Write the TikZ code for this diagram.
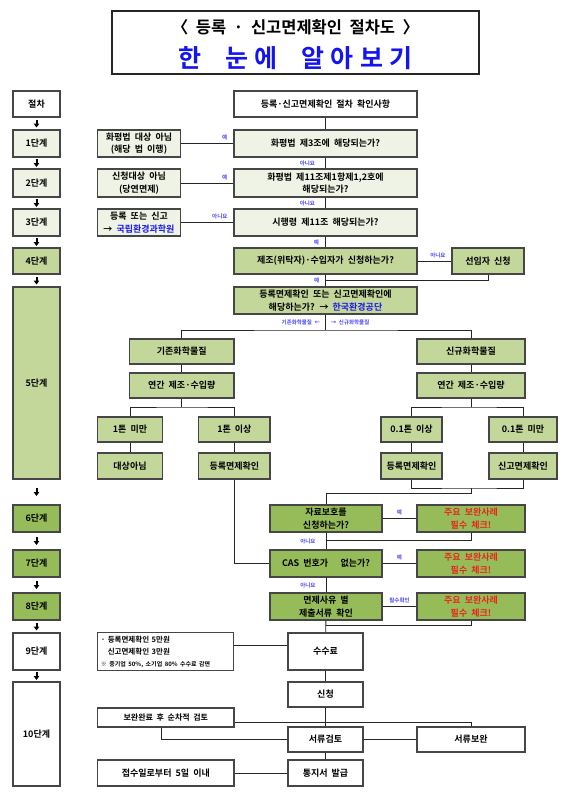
\documentclass[tikz,border=0pt]{standalone}
\usepackage{fontspec}
\setmainfont{Noto Sans CJK KR}[BoldFont={Noto Sans CJK KR Bold},WordSpace=2]
\usetikzlibrary{arrows.meta,positioning}

\definecolor{paleg}{RGB}{239,243,229}
\definecolor{midg}{RGB}{196,215,155}
\definecolor{darkg}{RGB}{150,188,90}
\definecolor{warnred}{RGB}{232,38,30}
\definecolor{linkblue}{RGB}{25,25,235}
\definecolor{labblue}{RGB}{70,70,255}
\definecolor{titleblue}{RGB}{20,20,240}
\definecolor{edge}{RGB}{70,70,70}

\begin{document}
\begin{tikzpicture}[x=1pt,y=-1pt,
    box/.style={draw=edge, line width=1.1pt, inner sep=1pt, align=center,
      font=\fontsize{9}{12.5}\selectfont\bfseries},
    stagebox/.style={box, minimum width=47pt},
    qbox/.style={box, minimum width=183pt},
    nbox/.style={box, minimum width=83pt},
    warnbox/.style={box, fill=darkg, text=warnred, minimum width=108pt, minimum height=27pt},
    link/.style={draw=black!85, line width=0.9pt},
    yn/.style={font=\fontsize{5.5}{6}\selectfont\bfseries, text=labblue, inner sep=0pt},
    stagearrow/.style={-{Triangle[width=5.5pt,length=4pt]}, line width=2pt, black}]
    \useasboundingbox (0,0) rectangle (569,795);

    % Title
    \node[draw=black!85, line width=1.2pt, minimum width=367pt, minimum height=63pt] (title) at (295.5,42.5) {};
    \node[font=\fontsize{16.5}{18}\selectfont\bfseries] (title1) at (295.5,27) {〈 등록 · 신고면제확인 절차도 〉};
    \node[font=\fontsize{25}{27}\selectfont\bfseries\addfontfeature{LetterSpace=25}, text=titleblue] (title2) at (295.5,58) {한 눈에 알아보기};

    % Stages (left column)
    \node[stagebox, minimum height=26pt] (s0) at (36.5,104) {절차};
    \node[stagebox, fill=paleg, minimum height=27pt] (s1) at (36.5,143.5) {1단계};
    \node[stagebox, fill=paleg, minimum height=28pt] (s2) at (36.5,183) {2단계};
    \node[stagebox, fill=paleg, minimum height=27pt] (s3) at (36.5,222.5) {3단계};
    \node[stagebox, fill=midg, minimum height=26pt] (s4) at (36.5,261) {4단계};
    \node[stagebox, fill=midg, minimum height=192pt] (s5) at (36.5,383) {5단계};
    \node[stagebox, fill=darkg, minimum height=27pt] (s6) at (36.5,518.5) {6단계};
    \node[stagebox, fill=darkg, minimum height=27pt] (s7) at (36.5,563.5) {7단계};
    \node[stagebox, fill=darkg, minimum height=27pt] (s8) at (36.5,606.5) {8단계};
    \node[stagebox, minimum height=37pt] (s9) at (36.5,651.5) {9단계};
    \node[stagebox, minimum height=104pt] (s10) at (36.5,734) {10단계};

    % same small arrow in every gap
    \foreach \a/\b in {s0/s1,s1/s2,s2/s3,s3/s4,s4/s5,s5/s6,s6/s7,s7/s8,s8/s9,s9/s10} {
      \path (\a.south) -- coordinate[midway] (m-\a) (\b.north);
      \draw[stagearrow] ([yshift=4pt]m-\a) -- ([yshift=-4pt]m-\a);
    }

    % Steps 1-4
    \node[qbox, minimum height=26pt] (top) at (325.5,104) {등록·신고면제확인 절차 확인사항};
    \node[qbox, fill=paleg, minimum height=27pt] (q1) at (325.5,143.5) {화평법 제3조에 해당되는가?};
    \node[nbox, fill=paleg, minimum height=27pt] (n1) at (139,143.5) {화평법 대상 아님\\(해당 법 이행)};
    \node[qbox, fill=paleg, minimum height=28pt] (q2) at (325.5,183) {화평법 제11조제1항제1,2호에\\해당되는가?};
    \node[nbox, fill=paleg, minimum height=28pt] (n2) at (139,183) {신청대상 아님\\(당연면제)};
    \node[qbox, fill=paleg, minimum height=27pt] (q3) at (325.5,222.5) {시행령 제11조 해당되는가?};
    \node[nbox, fill=paleg, minimum height=27pt] (n3) at (139,222.5) {등록 또는 신고\\→ {\color{linkblue}국립환경과학원}};
    \node[qbox, fill=midg, minimum height=26pt] (q4) at (325.5,261) {제조(위탁자)·수입자가 신청하는가?};
    \node[box, fill=midg, minimum width=72pt, minimum height=26pt] (sel) at (488,261) {선임자 신청};

    \draw[link] (top) -- (q1);
    \draw[link] (n1) -- node[yn, pos=.83, above=3pt] (y1) {예} (q1);
    \draw[link] (q1) -- node[yn, left=10pt] (no1) {아니요} (q2);
    \draw[link] (n2) -- node[yn, pos=.83, above=3pt] (y2) {예} (q2);
    \draw[link] (q2) -- node[yn, left=10pt] (no2) {아니요} (q3);
    \draw[link] (n3) -- node[yn, pos=.74, above=3pt] (no3) {아니요} (q3);
    \draw[link] (q3) -- node[yn, left=6pt] (y3) {예} (q4);
    \draw[link] (q4) -- node[yn, pos=.6, above=3pt] (no4) {아니요} (sel);

    % Step 5
    \node[qbox, fill=midg, minimum height=27pt] (q5) at (325.5,300.5) {등록면제확인 또는 신고면제확인에\\해당하는가? → {\color{linkblue}한국환경공단}};
    \coordinate (j4) at (325.5,280);
    \draw[link] (sel.south) |- (j4);
    \draw[link] (q4) -- (q5);
    \node[yn, left=6pt] (y4) at (j4) {예};

    \node[box, fill=midg, minimum width=104.5pt, minimum height=25pt] (ex) at (181.75,351.5) {기존화학물질};
    \node[box, fill=midg, minimum width=108pt, minimum height=25pt] (nw) at (471,351.5) {신규화학물질};
    \node[box, fill=midg, minimum width=104.5pt, minimum height=25pt] (exq) at (181.75,385.5) {연간 제조·수입량};
    \node[box, fill=midg, minimum width=108pt, minimum height=25pt] (nwq) at (471,385.5) {연간 제조·수입량};

    \node[box, fill=midg, minimum width=64.6pt, minimum height=25pt] (a1) at (130,429.5) {1톤 미만};
    \node[box, fill=midg, minimum width=71.2pt, minimum height=25pt] (a2) at (234.4,429.5) {1톤 이상};
    \node[box, fill=midg, minimum width=61pt, minimum height=25pt] (b1) at (411.5,429.5) {0.1톤 이상};
    \node[box, fill=midg, minimum width=68pt, minimum height=25pt] (b2) at (523,429.5) {0.1톤 미만};
    \node[box, fill=midg, minimum width=64.6pt, minimum height=26pt] (d1) at (130,466) {대상아님};
    \node[box, fill=midg, minimum width=71.2pt, minimum height=26pt] (d2) at (234.4,466) {등록면제확인};
    \node[box, fill=midg, minimum width=61pt, minimum height=26pt] (d3) at (411.5,466) {등록면제확인};
    \node[box, fill=midg, minimum width=68pt, minimum height=26pt] (d4) at (523,466) {신고면제확인};

    \coordinate (split) at (325.5,330);
    \draw[link] (q5) -- node[yn, left=5pt] (old) {기존화학물질 ←} node[yn, right=5pt] (new) {→ 신규화학물질} (split);
    \draw[link] (ex.north) |- (split) -| (nw.north);
    \draw[link] (ex) -- (exq);
    \draw[link] (nw) -- (nwq);
    \coordinate (jl) at (181.75,407);
    \coordinate (jr) at (471,407);
    \draw[link] (exq) -- (jl);
    \draw[link] (nwq) -- (jr);
    \draw[link] (a1.north) |- (jl) -| (a2.north);
    \draw[link] (b1.north) |- (jr) -| (b2.north);
    \draw[link] (a1) -- (d1);
    \draw[link] (a2) -- (d2);
    \draw[link] (b1) -- (d3);
    \draw[link] (b2) -- (d4);

    % Steps 6-8
    \node[box, fill=darkg, minimum width=112pt, minimum height=27pt] (q6) at (326,518.5) {자료보호를\\신청하는가?};
    \node[warnbox] (r6) at (471,518.5) {주요 보완사례\\필수 체크!};
    \node[box, fill=darkg, minimum width=112pt, minimum height=27pt] (q7) at (326,563.5) {CAS 번호가\ \ \ 없는가?};
    \node[warnbox] (r7) at (471,563.5) {주요 보완사례\\필수 체크!};
    \node[box, fill=darkg, minimum width=112pt, minimum height=27pt] (q8) at (326,606.5) {면제사유 별\\제출서류 확인};
    \node[warnbox] (r8) at (471,606.5) {주요 보완사례\\필수 체크!};

    \coordinate (jb) at (471,488);
    \coordinate (jc) at (326,493);
    \draw[link] (d3.south) |- (jb) -| (d4.south);
    \draw[link] (jb) |- (jc) -- (q6);
    \draw[link] (d2.south) |- (q7.west);
    \draw[link] (q6) -- node[yn, above=3pt] (y6) {예} (r6);
    \coordinate (j6) at (326,540);
    \draw[link] (r6.south) |- (j6);
    \draw[link] (q6) -- node[yn, left=10pt] (no6) {아니요} (q7);
    \draw[link] (q7) -- node[yn, above=3pt] (y7) {예} (r7);
    \draw[link] (q7) -- node[yn, left=10pt] (no7) {아니요} (q8);
    \draw[link] (q8) -- node[yn, above=3pt] (must8) {필수확인} (r8);
    \coordinate (j8) at (326,625);
    \draw[link] (r8.south) |- (j8);

    % Steps 9-10
    \node[box, minimum width=75pt, minimum height=37pt] (fee) at (325.5,651.5) {수수료};
    \node[box, minimum height=37pt, text width=130pt, inner sep=3pt, align=left, font=\fontsize{7.5}{12}\selectfont\bfseries] (feenote) at (165.85,651.5)
      {· 등록면제확인 5만원\\\phantom{· }신고면제확인 3만원\\{\fontsize{6}{8}\selectfont ※ 중기업 50\%, 소기업 80\% 수수료 감면}};
    \node[box, minimum width=75pt, minimum height=25pt] (apply) at (325.5,694.5) {신청};
    \node[box, minimum width=136.3pt, minimum height=19pt, font=\fontsize{8}{10}\selectfont\bfseries] (redo) at (165.85,717.5) {보완완료 후 순차적 검토};
    \node[box, minimum width=75pt, minimum height=25pt] (review) at (325.5,739.5) {서류검토};
    \node[box, minimum width=108pt, minimum height=25pt] (supp) at (471,739.5) {서류보완};
    \node[box, minimum width=75pt, minimum height=26pt] (notice) at (325.5,773) {통지서 발급};
    \node[box, minimum width=136.3pt, minimum height=26pt] (within) at (165.85,773) {접수일로부터 5일 이내};

    \draw[link] (q8) -- (fee);
    \draw[link] ([yshift=6pt]feenote.east) -- ([yshift=6pt]fee.west);
    \draw[link] (fee) -- (apply);
    \draw[link] (apply) -- (review);
    \draw[link] ([yshift=-4.5pt]redo.east) -| (supp.north);
    \draw[link] ([xshift=-4pt]redo.south) |- (review.west);
    \draw[link] (review) -- (supp);
    \draw[link] (review) -- (notice);
    \draw[link] (within) -- (notice);
\end{tikzpicture}
\end{document}
